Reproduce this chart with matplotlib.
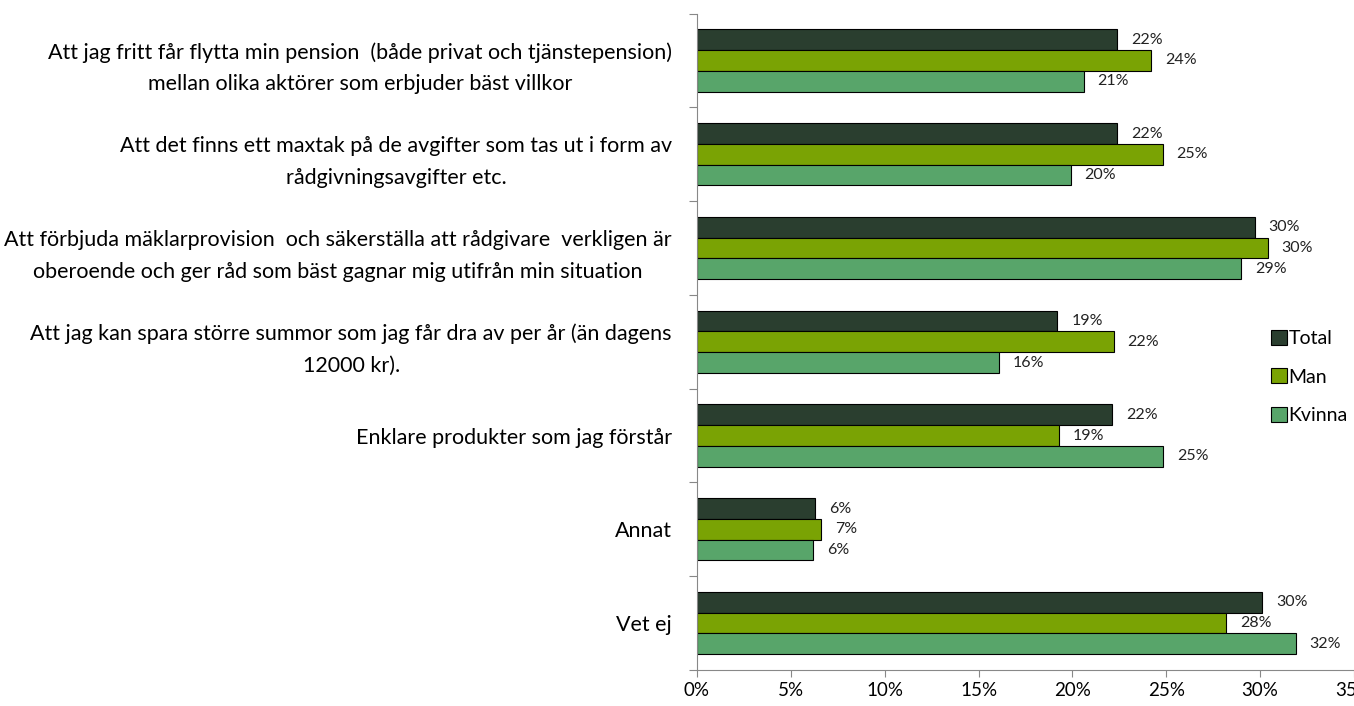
import numpy as np
import matplotlib.pyplot as plt
from matplotlib.ticker import PercentFormatter

plt.rcParams['font.family'] = ['Lato', 'DejaVu Sans']

# data (percent)
categories = [
    "Att jag fritt får flytta min pension  (både privat och tjänstepension)\nmellan olika aktörer som erbjuder bäst villkor",
    "Att det finns ett maxtak på de avgifter som tas ut i form av\nrådgivningsavgifter etc.",
    "Att förbjuda mäklarprovision  och säkerställa att rådgivare  verkligen är\noberoende och ger råd som bäst gagnar mig utifrån min situation",
    "Att jag kan spara större summor som jag får dra av per år (än dagens\n12000 kr).",
    "Enklare produkter som jag förstår",
    "Annat",
    "Vet ej",
]
total = [22.4, 22.4, 29.7, 19.2, 22.1, 6.3, 30.1]
man = [24.2, 24.8, 30.4, 22.2, 19.3, 6.6, 28.2]
kvinna = [20.6, 19.9, 29.0, 16.1, 24.85, 6.2, 31.9]
series_names = ["Total", "Man", "Kvinna"]
colors = ["#2a3e2f", "#7aa304", "#58a56a"]

fig = plt.figure(figsize=(13.54, 7.06), dpi=100)
ax = fig.add_axes([697 / 1354, 1 - 670 / 706, 1 - 697 / 1354, (670 - 13.6) / 706])

y = np.arange(len(categories))
h = 0.221
for k, (vals, name, col) in enumerate(zip([total, man, kvinna], series_names, colors)):
    pos = y + (k - 1) * h
    ax.barh(pos, vals, height=h, color=col, edgecolor="black", linewidth=0.8, label=name)
    for p, v in zip(pos, vals):
        ax.annotate(f"{v:.0f}%", (v, p), xytext=(10, 0), textcoords="offset points",
                    va="center", ha="left", fontsize=11.5, color="#222222")

ax.set_xlim(0, 35)
ax.set_ylim(len(categories) - 0.5, -0.5)
ax.xaxis.set_major_formatter(PercentFormatter(decimals=0))
ax.set_xticks(np.arange(0, 36, 5))

# group boundaries as ticks, category labels in between
ax.set_yticks(np.arange(-0.5, len(categories), 1))
ax.set_yticklabels([])
ax.set_yticks(y, minor=True)
ax.set_yticklabels(categories, minor=True, fontsize=15.5, multialignment="center", linespacing=1.72)
ax.tick_params(axis="y", which="minor", length=0, pad=18)
ax.tick_params(axis="y", which="major", length=6, color="#888888")
ax.tick_params(axis="x", length=5, color="#888888", labelsize=13.5, pad=4)

for s in ["top", "right"]:
    ax.spines[s].set_visible(False)
ax.spines["left"].set_color("#888888")
ax.spines["bottom"].set_color("#888888")

ax.legend(loc="upper left", bbox_to_anchor=(0.862, 0.53), frameon=False, fontsize=14,
          handlelength=0.8, handleheight=0.8, handletextpad=0.1, labelspacing=1.1,
          borderaxespad=0)

plt.savefig("out.png", dpi=100)
